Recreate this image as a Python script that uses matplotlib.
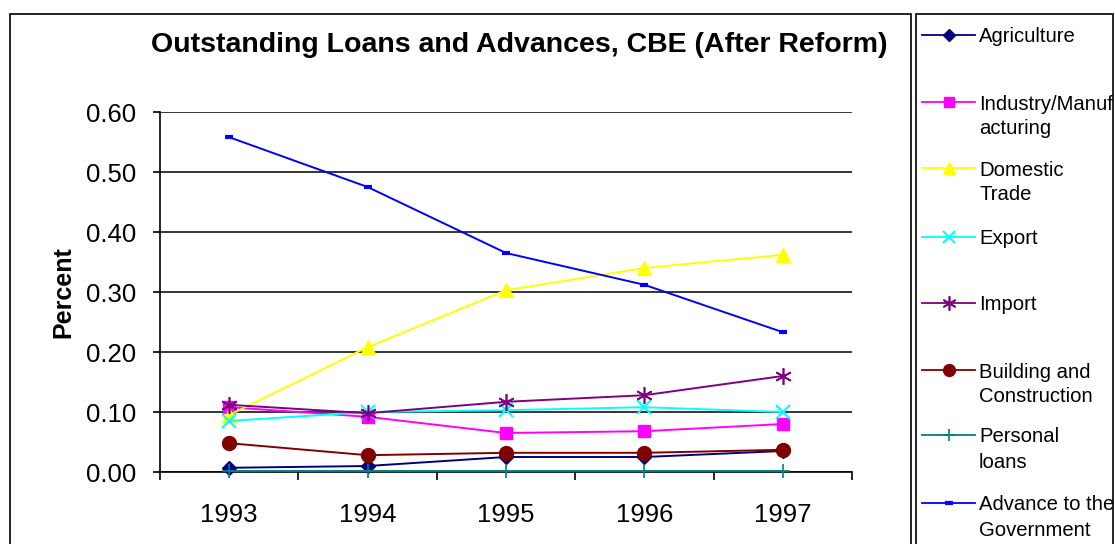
import matplotlib.pyplot as plt
from matplotlib.lines import Line2D
from matplotlib.patches import Rectangle

# outstanding loans share by sector, CBE after reform
years = ["1993", "1994", "1995", "1996", "1997"]
agriculture = [0.007, 0.010, 0.025, 0.025, 0.035]
industry = [0.108, 0.092, 0.065, 0.068, 0.080]
domestic_trade = [0.095, 0.208, 0.303, 0.340, 0.362]
export = [0.085, 0.100, 0.103, 0.108, 0.100]
imports = [0.112, 0.098, 0.117, 0.128, 0.160]
building = [0.048, 0.028, 0.032, 0.032, 0.037]
personal = [0.002, 0.002, 0.002, 0.002, 0.002]
government = [0.558, 0.475, 0.365, 0.312, 0.233]

series = [
    ("Agriculture", agriculture, "#000080", "D", 7, {}),
    ("Industry/Manuf\nacturing", industry, "#FF00FF", "s", 8, {}),
    ("Domestic\nTrade", domestic_trade, "#FFFF00", "^", 10, {}),
    ("Export", export, "#00FFFF", "x", 10, {"markeredgewidth": 1.5}),
    ("Import", imports, "#800080", (6, 2, 0), 12, {"markeredgewidth": 1.2}),
    ("Building and\nConstruction", building, "#800000", "o", 10, {}),
    ("Personal\nloans", personal, "#008080", "+", 10, {"markeredgewidth": 1.2}),
    ("Advance to the\nGovernment", government, "#0000FF", "_", 6, {"markeredgewidth": 3}),
]

plt.rcParams['font.family'] = ['Liberation Sans', 'DejaVu Sans']

W, H = 1115, 544
fig = plt.figure(figsize=(W / 100, H / 100), dpi=100)

# outer frames (chart area and legend box)
fig.patches.append(Rectangle((10 / W, -0.1), 901 / W, 1.1 - 14 / H, transform=fig.transFigure,
                             fill=False, edgecolor="black", linewidth=1.2))
fig.patches.append(Rectangle((916 / W, -0.1), 197 / W, 1.1 - 14 / H, transform=fig.transFigure,
                             fill=False, edgecolor="black", linewidth=1.2))

ax = fig.add_axes([160 / W, 1 - 472 / H, 692 / W, 360 / H])
x = list(range(1, len(years) + 1))
for label, vals, color, marker, ms, kw in series:
    ax.plot(x, vals, color=color, marker=marker, markersize=ms, linewidth=1.4,
            markerfacecolor=color, markeredgecolor=color, clip_on=False, zorder=3, **kw)

ax.set_xlim(0.5, 5.5)
ax.set_ylim(0, 0.6)
ax.set_yticks([0, 0.1, 0.2, 0.3, 0.4, 0.5, 0.6])
ax.set_yticklabels([f"{v:.2f}" for v in [0, 0.1, 0.2, 0.3, 0.4, 0.5, 0.6]], fontsize=18.5)
ax.set_xticks(x)
ax.set_xticklabels(years, fontsize=18.5)
ax.set_xticks([0.5 + i for i in range(6)], minor=True)
ax.tick_params(axis="x", which="major", length=0, pad=22)
ax.tick_params(axis="x", which="minor", length=6, width=1.2, direction="out")
ax.tick_params(axis="y", length=5, width=1.2, direction="out", pad=12)
ax.grid(axis="y", color="black", linewidth=1.1)
ax.set_axisbelow(True)
for s in ["top", "right"]:
    ax.spines[s].set_visible(False)
for s in ["left", "bottom"]:
    ax.spines[s].set_linewidth(1.2)
ax.set_ylabel("Percent", fontsize=18, fontweight="bold", labelpad=8)
fig.text(519 / W, 1 - 45 / H, "Outstanding Loans and Advances, CBE (After Reform)",
         ha="center", va="center", fontsize=20.5, fontweight="bold")

# legend drawn by hand so that two-line labels hang from the first line
ys = [35, 102, 168, 237, 303, 370, 435, 503]
for (label, vals, color, marker, ms, kw), yy in zip(series, ys):
    fy = 1 - yy / H
    fig.add_artist(Line2D([922 / W, 975 / W], [fy, fy], transform=fig.transFigure,
                          color=color, linewidth=1.3))
    fig.add_artist(Line2D([948.5 / W], [fy], transform=fig.transFigure, color=color,
                          marker=marker, markersize=ms * 0.85, markerfacecolor=color,
                          markeredgecolor=color, **kw))
    fig.text(979 / W, fy + 7.5 / H, label, fontsize=14.6, va="top", ha="left", linespacing=1.4)

fig.savefig("out.png", dpi=100)
